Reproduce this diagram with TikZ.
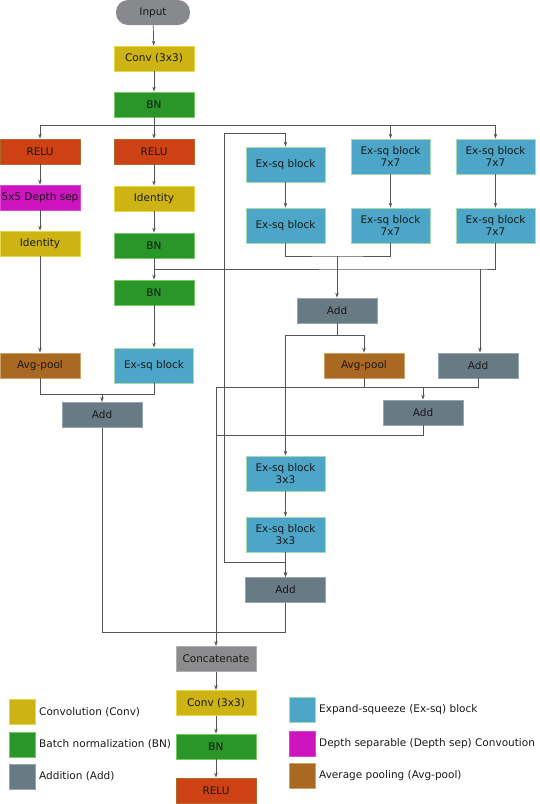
\documentclass[tikz,border=0pt]{standalone}
\usepackage{fontspec}
\setmainfont{DejaVu Sans}
\usepackage{xcolor}
\usetikzlibrary{arrows.meta, shapes, positioning, calc}

\definecolor{convc}{RGB}{205,180,20}
\definecolor{convd}{RGB}{232,215,70}
\definecolor{bnc}{RGB}{42,150,42}
\definecolor{bnd}{RGB}{120,200,100}
\definecolor{reluc}{RGB}{205,65,20}
\definecolor{relud}{RGB}{175,105,45}
\definecolor{dsepc}{RGB}{205,20,190}
\definecolor{dsepd}{RGB}{220,70,205}
\definecolor{exsqc}{RGB}{77,166,200}
\definecolor{exsqd}{RGB}{165,220,175}
\definecolor{addc}{RGB}{104,122,132}
\definecolor{addd}{RGB}{150,165,175}
\definecolor{avgc}{RGB}{170,105,35}
\definecolor{avgd}{RGB}{205,165,105}
\definecolor{catc}{RGB}{140,140,142}
\definecolor{catd}{RGB}{175,175,175}
\definecolor{inc}{RGB}{135,137,141}
\definecolor{linec}{RGB}{85,85,85}
\definecolor{txtc}{RGB}{25,25,25}

\begin{document}
\begin{tikzpicture}[x=1pt, y=-1pt,
        blk/.style={rectangle, minimum width=80pt, minimum height=25pt, inner sep=0pt, align=center, text=txtc, font={\fontsize{10.5}{12.5}\selectfont}, line width=0.8pt},
        conv/.style={blk, fill=convc, draw=convd},
        bn/.style={blk, fill=bnc, draw=bnd},
        relu/.style={blk, fill=reluc, draw=relud},
        dsep/.style={blk, fill=dsepc, draw=dsepd},
        exsq/.style={blk, fill=exsqc, draw=exsqd, minimum width=79pt, minimum height=35pt},
        addb/.style={blk, fill=addc, draw=addd},
        avg/.style={blk, fill=avgc, draw=avgd},
        cat/.style={blk, fill=catc, draw=catd},
        key/.style={rectangle, minimum width=26pt, minimum height=25pt, inner sep=0pt, line width=0.8pt},
        keytext/.style={anchor=west, inner sep=0pt, text=txtc, font={\fontsize{10.5}{12.5}\selectfont}},
        line/.style={draw=linec, line width=0.7pt},
        arr/.style={line, -{Stealth[length=5pt, width=3.5pt]}}
    ]
        \useasboundingbox (0,0) rectangle (539,804);
        % Stem
        \node (input) [blk, rounded corners=12pt, fill=inc, minimum width=74pt] at (153,12.5) {Input};
        \node (conv1) [conv] at (154,58.5) {Conv (3x3)};
        \node (bn1) [bn] at (154,104.5) {BN};
        % Left branch
        \node (relu1) [relu] at (40,151.5) {RELU};
        \node (dsep1) [dsep] at (40,197.5) {5x5 Depth sep};
        \node (id1) [conv] at (40,243.5) {Identity};
        \node (avgL) [avg] at (40,365.5) {Avg-pool};
        % Middle branch
        \node (relu2) [relu] at (154,151.5) {RELU};
        \node (id2) [conv] at (154,198.5) {Identity};
        \node (bn2) [bn] at (154,245.5) {BN};
        \node (bn3) [bn] at (154,292.5) {BN};
        \node (exM) [exsq] at (154,365.5) {Ex-sq block};
        \node (addL) [addb] at (102,415) {Add};
        % Ex-sq branches
        \node (exA1) [exsq] at (285.5,164.5) {Ex-sq block};
        \node (exA2) [exsq] at (285.5,225.5) {Ex-sq block};
        \node (exB1) [exsq] at (390.5,156.5) {Ex-sq block\\7x7};
        \node (exB2) [exsq] at (390.5,225.5) {Ex-sq block\\7x7};
        \node (exC1) [exsq] at (495.5,156.5) {Ex-sq block\\7x7};
        \node (exC2) [exsq] at (495.5,225.5) {Ex-sq block\\7x7};
        \node (add1) [addb] at (337,310.5) {Add};
        \node (avgR) [avg] at (364,365.5) {Avg-pool};
        \node (addR) [addb] at (478,365.5) {Add};
        \node (add3) [addb] at (423,412.5) {Add};
        \node (exD1) [exsq] at (285.5,473.5) {Ex-sq block\\3x3};
        \node (exD2) [exsq] at (285.5,534.5) {Ex-sq block\\3x3};
        \node (addD) [addb] at (285.5,590) {Add};
        % Head
        \node (concat) [cat] at (216,659) {Concatenate};
        \node (conv2) [conv] at (216,703) {Conv (3x3)};
        \node (bn4) [bn] at (216,746.5) {BN};
        \node (relu3) [relu] at (216,790.5) {RELU};
        % Junctions
        \coordinate (s1) at (154,125);
        \coordinate (sk) at (224,133);
        \coordinate (m1) at (337,256);
        \coordinate (m2) at (480,269);
        \coordinate (m2b) at (154,269);
        \coordinate (m3) at (102,394);
        \coordinate (m4) at (337,335);
        \coordinate (m5) at (285.5,562);
        \coordinate (m6) at (423,387);
        \coordinate (m7) at (216,387);
        \coordinate (m8) at (216,435);
        \coordinate (m9) at (285.5,632);
        % Stem lines
        \draw [arr] (input) -- (conv1);
        \draw [arr] (conv1) -- (bn1);
        \draw [line] (bn1) -- (s1);
        \draw [arr] (s1) -| (relu1);
        \draw [arr] (s1) -- (relu2);
        \draw [arr] (s1) -| (exB1);
        \draw [arr] (s1) -| (exC1);
        % Left branch lines
        \draw [arr] (relu1) -- (dsep1);
        \draw [arr] (dsep1) -- (id1);
        \draw [arr] (id1) -- (avgL);
        % Middle branch lines
        \draw [arr] (relu2) -- (id2);
        \draw [arr] (id2) -- (bn2);
        \draw [arr] (bn2) -- (bn3);
        \draw [arr] (bn3) -- (exM);
        \draw [arr] (avgL.south) |- (m3) -- (addL);
        \draw [line] (exM.south) |- (m3);
        % Ex-sq lines
        \draw [arr] (sk) -| (exA1);
        \draw [arr] (exA1) -- (exA2);
        \draw [arr] (exB1) -- (exB2);
        \draw [arr] (exC1) -- (exC2);
        \draw [line] (exA2.south) |- (m1) -| (exB2.south);
        \draw [arr] (m1) -- (add1);
        \draw [line] (exC2.south) |- (m2) -- (m2b);
        \draw [arr] (m2) -- (m2 |- addR.north);
        \draw [line] (add1) -- (m4);
        \draw [arr] (m4) -| (avgR);
        \draw [arr] (m4) -| (exD1);
        \draw [line] (addR.south) |- (m7);
        \draw [line] (avgR.south) -- (avgR.south |- m7);
        \draw [arr] (m6) -- (add3);
        \draw [arr] (exD1) -- (exD2);
        \draw [arr] (exD2) -- (addD);
        \draw [arr] (sk) |- (m5) -- (addD);
        % Outputs
        \draw [line] (add3.south) |- (m8);
        \draw [arr] (m7) -- (concat);
        \draw [line] (addL.south) |- (m9);
        \draw [line] (addD) -- (m9);
        \draw [arr] (concat) -- (conv2);
        \draw [arr] (conv2) -- (bn4);
        \draw [arr] (bn4) -- (relu3);
        % Legend
        \node (k1) [key, fill=convc, draw=convd] at (22,712) {};
        \node (k2) [key, fill=bnc, draw=bnd] at (22,744.5) {};
        \node (k3) [key, fill=addc, draw=addd] at (22,776.5) {};
        \node (t1) [keytext] at (39,712) {Convolution (Conv)};
        \node (t2) [keytext] at (39,744.5) {Batch normalization (BN)};
        \node (t3) [keytext] at (39,776.5) {Addition (Add)};
        \node (k4) [key, fill=exsqc, draw=exsqd] at (302,709.5) {};
        \node (k5) [key, fill=dsepc, draw=dsepd] at (302,743.5) {};
        \node (k6) [key, fill=avgc, draw=avgd] at (302,776) {};
        \node (t4) [keytext] at (319,709.5) {Expand-squeeze (Ex-sq) block};
        \node (t5) [keytext] at (319,743.5) {Depth separable (Depth sep) Convoution};
        \node (t6) [keytext] at (319,776) {Average pooling (Avg-pool)};
    \end{tikzpicture}
\end{document}
